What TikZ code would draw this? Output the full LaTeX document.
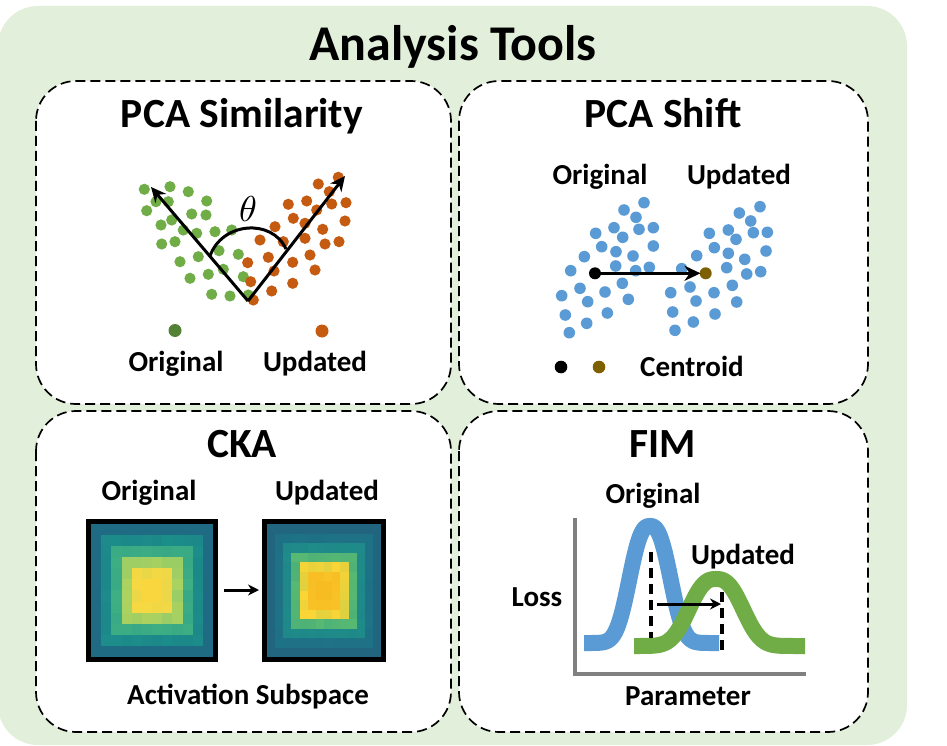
\documentclass[tikz,border=0pt]{standalone}
\usepackage{fontspec}
\setmainfont{Carlito}
\usetikzlibrary{arrows.meta}

\definecolor{bggreen}{HTML}{E2EFDA}
\definecolor{dotgreen}{HTML}{70AD47}
\definecolor{darkgreen}{HTML}{548235}
\definecolor{dotorange}{HTML}{C55A11}
\definecolor{dotblue}{HTML}{5B9BD5}
\definecolor{centbrown}{HTML}{7F6000}
\definecolor{axisgray}{HTML}{808080}
% heat map palettes, ring 0 = centre
\definecolor{hA0}{HTML}{F9D63D}
\definecolor{hA1}{HTML}{F7D842}
\definecolor{hA2}{HTML}{ADD35F}
\definecolor{hA3}{HTML}{3EAE84}
\definecolor{hA4}{HTML}{1C8E8A}
\definecolor{hA5}{HTML}{1E6B83}
\definecolor{hA6}{HTML}{1E6B83}
\definecolor{hB0}{HTML}{F7BC22}
\definecolor{hB1}{HTML}{F8BE24}
\definecolor{hB2}{HTML}{FBD535}
\definecolor{hB3}{HTML}{58B972}
\definecolor{hB4}{HTML}{1F8C89}
\definecolor{hB5}{HTML}{1E7386}
\definecolor{hB6}{HTML}{22657F}
\definecolor{hB7}{HTML}{22657F}

\begin{document}
\begin{tikzpicture}[x=1pt,y=-1pt,
  panel/.style={draw=black, fill=white, line width=1.7pt, dash pattern=on 10pt off 5pt, rounded corners=40pt},
  bigtitle/.style={font=\fontsize{50}{56}\selectfont\bfseries, anchor=base, inner sep=0pt},
  ptitle/.style={font=\fontsize{41.5}{46}\selectfont\bfseries, anchor=base, inner sep=0pt},
  lbl/.style={font=\fontsize{29}{34}\selectfont\bfseries, anchor=base, inner sep=0pt},
  gdot/.style={fill=dotgreen},
  odot/.style={fill=dotorange},
  bdot/.style={fill=dotblue},
  vec/.style={line width=3pt, -{Stealth[length=15pt, width=14pt]}},
  shiftarrow/.style={line width=3.4pt, -{Stealth[length=16pt, width=15pt]}},
  smallarrow/.style={line width=3pt, -{Stealth[length=11pt, width=11pt]}},
  curve/.style={line width=16pt},
  guide/.style={line width=4.5pt, dash pattern=on 10pt off 6pt},
]
\useasboundingbox (0,0) rectangle (947,746);

% outer background
\fill[bggreen, rounded corners=40pt] (-2,6) rectangle (907,745);
\node[bigtitle] (title) at (453,61) {Analysis Tools};

% four dashed panels
\draw[panel] (36,81) rectangle (451,404);
\draw[panel] (459,81) rectangle (868,404);
\draw[panel] (36,411) rectangle (451,732);
\draw[panel] (459,411) rectangle (868,732);

% ---------------- PCA Similarity ----------------
\node[ptitle] (t1) at (242,128) {PCA Similarity};
\foreach \p in {(144.3,189.3),(170,186.7),(188.3,191.7),(156,201.7),(168.3,201.7),(206.7,201),
  (146.7,210.7),(191.7,214),(206,215),(161,225),(171.7,220),(183.3,230),(196.7,233.3),
  (215,231.7),(231.7,230),(161.7,244),(175,241.7),(198.3,256.7),(219,250.7),(238.3,254.3),
  (180,261.7),(208.3,274.3),(223.3,269.3),(243.3,276.7),(190,278.3),(211.7,294.3),(230,296),(248.3,295)}
  \fill[gdot] \p circle[radius=5.6pt];
\foreach \p in {(338.3,177.3),(318.3,184),(329.3,191.7),(288.3,204.3),(306.7,201),(316.7,210),
  (331.7,204),(346,202.7),(293.3,218.3),(305,223.3),(345,221),(275,226.7),(322.7,229.3),
  (260,240),(283.3,241.7),(305,238.3),(325,244),(339,241.7),(268.3,257.3),(247.7,262.7),
  (292.7,262.3),(310,255),(274,271),(315,270),(250.7,281.7),(271.7,291),(292.7,283.3),(253.3,300)}
  \fill[odot] \p circle[radius=5.6pt];
\coordinate (vtx) at (248,301);
\coordinate (leftdir) at (151,187);
\coordinate (rightdir) at (345,176);
\coordinate (arcL) at (210,256);
\coordinate (arcR) at (286,249);
\draw[line width=3pt] (arcL) .. controls (222,222) and (272,218) .. (arcR);
\draw[vec] (vtx) -- (leftdir);
\draw[vec] (vtx) -- (rightdir);
\node[scale=3.6, inner sep=0pt] (theta) at (248,209) {$\theta$};
\fill[darkgreen] (175,330.5) circle[radius=6.5pt] coordinate (legO);
\fill[dotorange] (322,331) circle[radius=6.5pt] coordinate (legU);
\node[lbl] (o1) at (176,371) {Original};
\node[lbl] (u1) at (315,371) {Updated};

% ---------------- PCA Shift ----------------
\node[ptitle] (t2) at (663,128) {PCA Shift};
\node[lbl] (o2) at (600,185) {Original};
\node[lbl] (u2) at (739,185) {Updated};
\foreach \p in {(644,202.7),(624,210),(636,217.3),(595.7,233.3),(614,227.7),(622.7,237.3),
  (639,229.3),(653.3,227.7),(601.7,246.7),(616,251.7),(633,256),(653.3,246),(584.3,256.7),
  (615.7,266),(635.7,270.7),(649.3,267.3),(570.7,270.7),(622.3,283.3),(580,288.3),(605,292),
  (628.3,299.3),(561.7,295.7),(587.7,301.7),(565.3,315),(607.3,313),(586.7,323.3),(569.3,332.7),
  (760,206.7),(739.3,213),(750.7,221),(709.3,233.3),(728.3,230),(736,239.3),(753.3,232.7),
  (767.3,232.3),(714.3,247.7),(728.3,253.3),(766,251),(696.7,255.7),(744.7,259.3),(681.7,268.7),
  (726.7,267.7),(746.7,274),(760.7,271.7),(690,287),(670.7,292.7),(714,292.7),(732.3,285.3),
  (696,301),(736.7,302),(672.7,312),(693.3,322),(715,314),(675,330.3)}
  \fill[bdot] \p circle[radius=5.8pt];
\fill[black] (595,273.3) circle[radius=6pt];
\fill[centbrown] (705.7,273.3) circle[radius=6pt];
\coordinate (c0) at (595,273.3);
\coordinate (c1) at (700.5,273.3);
\draw[shiftarrow] (c0) -- (c1);
\fill[black] (561,367) circle[radius=6.3pt] coordinate (legc0);
\fill[centbrown] (599,367) circle[radius=6.3pt] coordinate (legc1);
\node[lbl] (cen) at (692,376) {Centroid};

% ---------------- CKA ----------------
\node[ptitle] (t3) at (242,457) {CKA};
\node[lbl] (o3) at (149,500) {Original};
\node[lbl] (u3) at (327,500) {Updated};
% original activation map: 12 x 12 cells
\pgfmathsetseed{7}
\foreach \i in {0,...,11}{
  \foreach \j in {0,...,11}{
    \pgfmathtruncatemacro\r{max(abs(\i-5.5),abs(\j-5.5))}
    \pgfmathtruncatemacro\rn{\r+1}
    \pgfmathtruncatemacro\m{82+18*rnd}
    \fill[hA\r!\m!hA\rn] (91+\i*10.17,524+\j*11.08) rectangle ++(10.4,11.3);
  }
}
\draw[line width=5.5pt] (88.5,521.5) rectangle (215.5,659.5);
\coordinate (mapA) at (224,590);
% updated activation map: 14 x 14 cells
\foreach \i in {0,...,13}{
  \foreach \j in {0,...,13}{
    \pgfmathtruncatemacro\r{max(abs(\i-6.5),abs(\j-6.5))}
    \pgfmathtruncatemacro\rn{\r+1}
    \pgfmathtruncatemacro\m{82+18*rnd}
    \fill[hB\r!\m!hB\rn] (267+\i*8.15,524+\j*9.5) rectangle ++(8.4,9.7);
  }
}
\draw[line width=5.5pt] (264.5,521.5) rectangle (383.5,659.5);
\coordinate (mapB) at (259,590);
\draw[smallarrow] (mapA) -- (mapB);
\node[lbl] (act) at (248,704) {Activation Subspace};

% ---------------- FIM ----------------
\node[ptitle] (t4) at (663,457) {FIM};
\draw[axisgray, line width=4.8pt] (575,518) -- (575,674) -- (806,674);
% loss bumps: flat-topped bell curves
\draw[curve, dotblue] plot[domain=584:719, samples=110]
  (\x, {643-117*exp(-(abs((\x-650)/25))^2.6)});
\draw[curve, dotgreen] plot[domain=634:805, samples=110]
  (\x, {646-67*exp(-(abs((\x-716)/33))^2.6)});
\coordinate (m0top) at (651,552);
\coordinate (m0bot) at (651,638);
\coordinate (m1top) at (722,592);
\coordinate (m1bot) at (722,652);
\draw[guide] (m0top) -- (m0bot);
\draw[guide] (m1top) -- (m1bot);
\coordinate (s0) at (657,604);
\coordinate (s1) at (721,604);
\draw[smallarrow] (s0) -- (s1);
\node[lbl] (o4) at (653,503) {Original};
\node[lbl] (u4) at (743,564) {Updated};
\node[lbl] (loss) at (537,606) {Loss};
\node[lbl] (par) at (688,705) {Parameter};
\end{tikzpicture}
\end{document}
